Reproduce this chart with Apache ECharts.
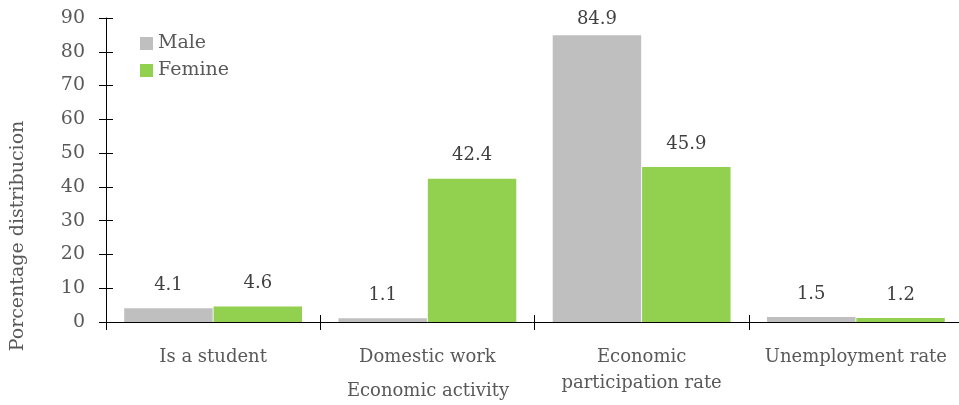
<!DOCTYPE html>
<html><head><meta charset="utf-8">
<script src="https://cdn.jsdelivr.net/npm/echarts@6/dist/echarts.min.js"></script>
<style>html,body{margin:0;padding:0;background:#fff}#c{width:959px;height:405px}</style>
</head><body><div id="c"></div>
<script>
const categories = ['Is a student', 'Domestic work', 'Economic\nparticipation rate', 'Unemployment rate'];
const maleValues = [4.1, 1.1, 84.9, 1.5];
const femaleValues = [4.6, 42.4, 45.9, 1.2];
const seriesNames = ['Male', 'Femine'];
const yTicks = [0, 10, 20, 30, 40, 50, 60, 70, 80, 90];

const FONT = 'DejaVu Serif';
const chart = echarts.init(document.getElementById('c'));
const lbl = {show: true, position: 'top', distance: 14, color: '#404040', fontFamily: FONT, fontSize: 18};
const withLabels = arr => arr.map(v => v > 80 ? {value: v, label: {distance: 7}} : v);
chart.setOption({
  animation: false,
  grid: {left: 106, width: 857, top: 18, height: 304, outerBoundsMode: 'none', containLabel: false},
  legend: {
    orient: 'vertical', left: 135, top: 29, itemWidth: 13, itemHeight: 13, itemGap: 8,
    icon: 'rect',
    textStyle: {color: '#595959', fontFamily: FONT, fontSize: 19},
    data: seriesNames
  },
  xAxis: [{
    type: 'category', data: categories,
    axisLine: {lineStyle: {color: '#000', width: 1}},
    axisTick: {show: true, length: 8, lineStyle: {color: '#000'}},
    axisLabel: {color: '#595959', fontFamily: FONT, fontSize: 18, margin: 22, lineHeight: 26, interval: 0}
  }, {
    type: 'category', data: categories, position: 'top',
    axisLine: {show: true, onZero: true, lineStyle: {color: '#000', opacity: 0}},
    axisTick: {show: true, length: 7, lineStyle: {color: '#000'}},
    axisLabel: {show: false}
  }],
  yAxis: [{
    type: 'value', min: yTicks[0], max: yTicks[yTicks.length - 1], interval: 10,
    axisLine: {show: true, lineStyle: {color: '#000'}},
    axisTick: {show: true, length: 7, lineStyle: {color: '#000'}},
    splitLine: {show: false},
    axisLabel: {color: '#595959', fontFamily: FONT, fontSize: 19, margin: 21}
  }, {
    type: 'value', min: yTicks[0], max: yTicks[yTicks.length - 1], interval: 10,
    position: 'left', offset: 0,
    axisLine: {show: true, lineStyle: {color: '#000', opacity: 0}},
    axisTick: {show: true, inside: true, length: 7, lineStyle: {color: '#000'}},
    splitLine: {show: false},
    axisLabel: {show: false}
  }],
  series: [
    {name: seriesNames[0], type: 'bar', data: withLabels(maleValues), itemStyle: {color: '#BFBFBF'},
     barGap: '1%', barCategoryGap: '17%', label: lbl},
    {name: seriesNames[1], type: 'bar', data: withLabels(femaleValues), itemStyle: {color: '#92D050'},
     barGap: '1%', barCategoryGap: '17%', label: lbl}
  ],
  graphic: [
    {type: 'text', x: 18, y: 236, rotation: Math.PI / 2, style: {text: 'Porcentage distribucion', fill: '#595959', font: '19px "DejaVu Serif"', align: 'center', verticalAlign: 'middle'}},
    {type: 'text', x: 428, y: 391, style: {text: 'Economic activity', fill: '#595959', font: '18px "DejaVu Serif"', align: 'center', verticalAlign: 'middle'}}
  ]
});
</script></body></html>
